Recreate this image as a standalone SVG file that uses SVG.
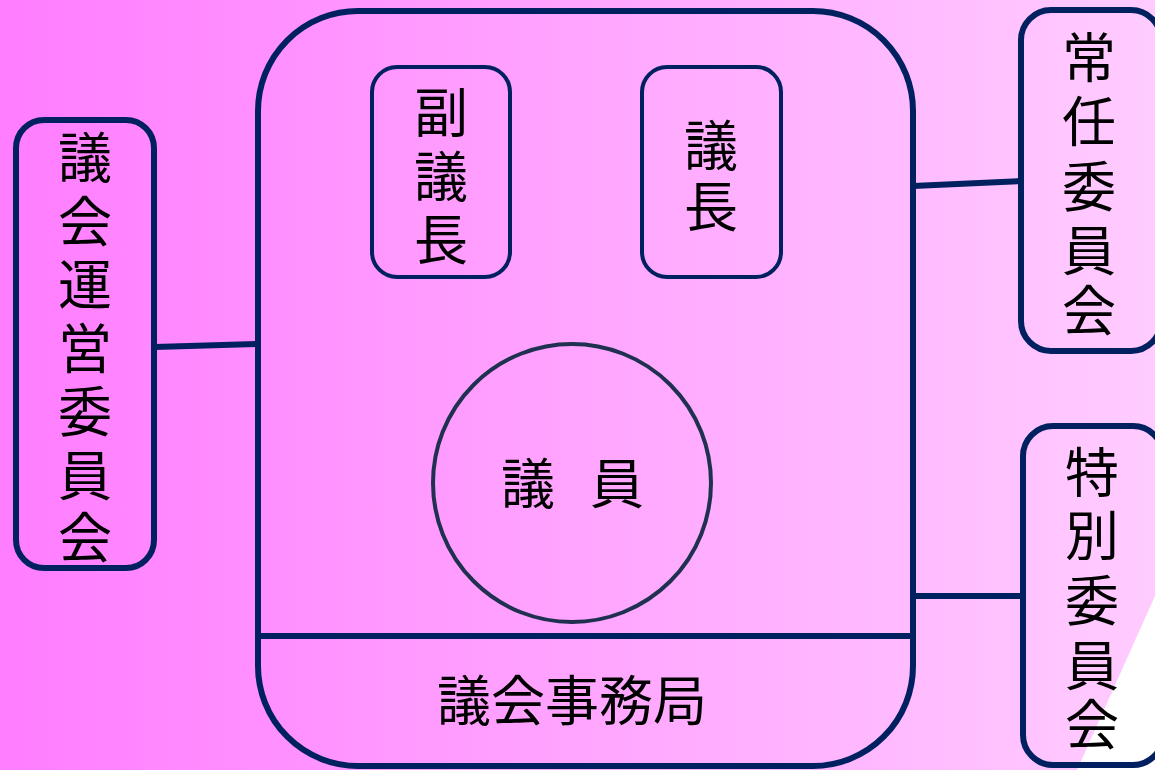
<svg xmlns="http://www.w3.org/2000/svg" width="1155" height="770" viewBox="0 0 1155 770">
<defs>
<linearGradient id="bg" x1="0" y1="0" x2="1" y2="0">
<stop offset="0" stop-color="#FF7DFF"/>
<stop offset="1" stop-color="#FFCCFF"/>
</linearGradient>
</defs>
<style>
.box{fill:none;stroke:#002060;stroke-width:6}
.sbox{fill:none;stroke:#002060;stroke-width:4}
.conn{fill:none;stroke:#002060;stroke-width:6}
.t{font-family:"Noto Sans CJK JP","Noto Sans CJK SC",sans-serif;font-size:54px;fill:#000;text-anchor:middle}
</style>
<rect x="0" y="0" width="1155" height="770" fill="url(#bg)"/>
<polygon points="1155,596 1155,770 1077,770" fill="#FFFFFF"/>
<g id="connectors">
<line class="conn" x1="155" y1="347" x2="258" y2="344"/>
<line class="conn" x1="913" y1="186" x2="1021" y2="181"/>
<line class="conn" x1="913" y1="596" x2="1023" y2="596"/>
</g>
<g id="council">
<rect class="box" x="258" y="11" width="655" height="755" rx="100" ry="100"/>
<line class="conn" x1="258" y1="636" x2="913" y2="636"/>
<text class="t" x="572" y="721" font-size="54">議会事務局</text>
</g>
<g id="giin">
<circle cx="572" cy="483" r="139" fill="none" stroke="#1F3050" stroke-width="4"/>
<text class="t"><tspan x="528" y="504">議</tspan><tspan x="617" y="504">員</tspan></text>
</g>
<g id="fukugicho">
<rect class="sbox" x="372" y="67" width="138" height="210" rx="25" ry="25"/>
<text class="t"><tspan x="441" y="133">副</tspan><tspan x="441" y="197">議</tspan><tspan x="441" y="260">長</tspan></text>
</g>
<g id="gicho">
<rect class="sbox" x="642" y="67" width="139" height="210" rx="25" ry="25"/>
<text class="t"><tspan x="711" y="166">議</tspan><tspan x="711" y="227">長</tspan></text>
</g>
<g id="giun">
<rect class="box" x="16" y="120" width="138" height="448" rx="28" ry="28"/>
<text class="t"><tspan x="85" y="178">議</tspan><tspan x="85" y="242">会</tspan><tspan x="85" y="305">運</tspan><tspan x="85" y="369">営</tspan><tspan x="85" y="432">委</tspan><tspan x="85" y="496">員</tspan><tspan x="85" y="558">会</tspan></text>
</g>
<g id="joninn">
<rect class="box" x="1021" y="10" width="140" height="341" rx="30" ry="30"/>
<text class="t"><tspan x="1089" y="78">常</tspan><tspan x="1089" y="142">任</tspan><tspan x="1089" y="207">委</tspan><tspan x="1089" y="271">員</tspan><tspan x="1089" y="331">会</tspan></text>
</g>
<g id="tokubetsu">
<rect class="box" x="1023" y="426" width="140" height="339" rx="30" ry="30"/>
<text class="t"><tspan x="1092" y="493">特</tspan><tspan x="1092" y="556">別</tspan><tspan x="1092" y="621">委</tspan><tspan x="1092" y="686">員</tspan><tspan x="1092" y="745">会</tspan></text>
</g>
</svg>
